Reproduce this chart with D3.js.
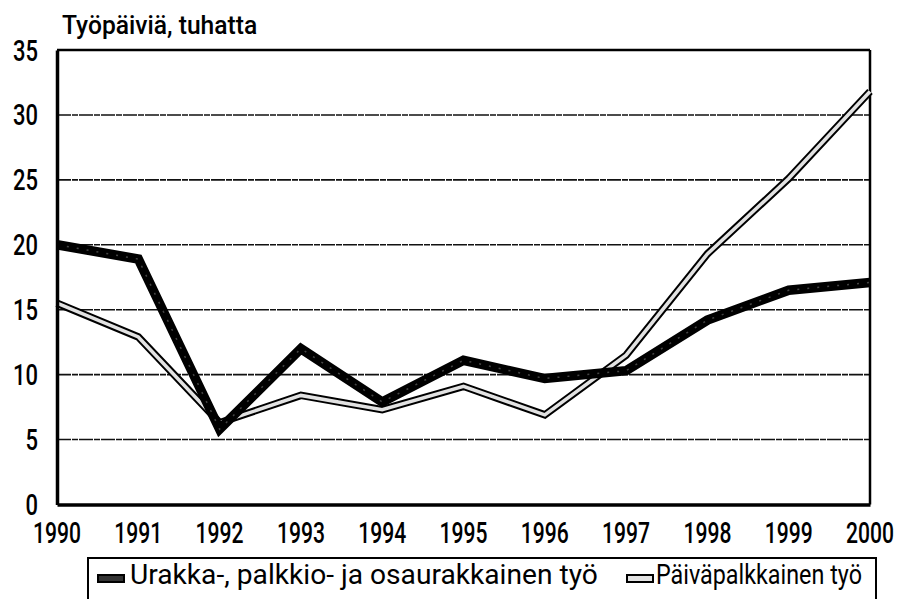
<!DOCTYPE html>
<html><head><meta charset="utf-8">
<script src="https://cdn.jsdelivr.net/npm/d3@7"></script>
<style>
body{margin:0;background:#fff;}
text{font-family:Roboto,"Liberation Sans",sans-serif;fill:#000;}
</style></head><body>
<svg id="c" width="898" height="599"></svg>
<script>
const years = [1990,1991,1992,1993,1994,1995,1996,1997,1998,1999,2000];
const urakka = [20.0,18.9,5.8,12.0,7.9,11.1,9.7,10.3,14.2,16.5,17.1];
const paiva = [15.5,12.9,6.3,8.4,7.3,9.1,6.9,11.5,19.3,25.1,31.8];
const yTicks = [0,5,10,15,20,25,30,35];
const seriesNames = ["Urakka-, palkkio- ja osaurakkainen työ","Päiväpalkkainen työ"];
const yTitle = "Työpäiviä, tuhatta";

const svg = d3.select("#c");
const L=57,R=870,T=50,B=504.5;
const x = d3.scaleLinear().domain([1990,2000]).range([L,R]);
const y = d3.scaleLinear().domain([0,35]).range([B,T]);

function fitText(g, str, px, py, size, width, anchor){
  const t = g.append("text").attr("x",0).attr("y",0).style("font-size",size+"px")
    .attr("text-anchor",anchor||"start").text(str);
  const w = t.node().getComputedTextLength();
  const s = width / w;
  t.attr("transform",`translate(${px},${py}) scale(${s},1)`);
  return t;
}

// grid
svg.append("g").selectAll("line").data(yTicks.filter(d=>d>0&&d<35)).join("line")
  .attr("x1",L).attr("x2",R).attr("y1",d=>y(d)).attr("y2",d=>y(d))
  .attr("stroke","#111").attr("stroke-width",1.6).attr("stroke-dasharray","14,1,6,1");

// frame
svg.append("line").attr("x1",L).attr("x2",R).attr("y1",T).attr("y2",T).attr("stroke","#000").attr("stroke-width",2.5);
svg.append("line").attr("x1",R).attr("x2",R).attr("y1",T).attr("y2",B).attr("stroke","#000").attr("stroke-width",2.5);

// lines
const line = d3.line().x((d,i)=>x(years[i])).y(d=>y(d)).curve(d3.curveLinear);
svg.append("path").attr("d",line(paiva)).attr("fill","none").attr("stroke","#000").attr("stroke-width",7.5).attr("stroke-linejoin","miter");
svg.append("path").attr("d",line(paiva)).attr("fill","none").attr("stroke","#e2e2e2").attr("stroke-width",3.5).attr("stroke-linejoin","miter");
svg.append("path").attr("d",line(urakka)).attr("fill","none").attr("stroke","#000").attr("stroke-width",9.5).attr("stroke-linejoin","miter");
svg.append("path").attr("d",line(urakka)).attr("fill","none").attr("stroke","#444").attr("stroke-width",1.5).attr("stroke-dasharray","2,8");

// axes
const gy = svg.append("g").attr("transform",`translate(${L},0)`).call(d3.axisLeft(y).tickValues(yTicks).tickSize(0).tickFormat(""));
gy.select(".domain").attr("stroke","#000").attr("stroke-width",3.5);
const gx = svg.append("g").attr("transform",`translate(0,${B})`).call(d3.axisBottom(x).tickValues(years).tickSize(0).tickFormat(""));
gx.select(".domain").attr("stroke","#000").attr("stroke-width",3.5);

const lab = svg.append("g").style("font-weight","500");
yTicks.forEach(d=>{
  const s = String(d);
  fitText(lab, s, 38, y(d)+10.5, 30, s.length*12.5, "end");
});
years.forEach(d=>{
  fitText(lab, String(d), x(d), 543, 30, 48, "middle");
});

// title
fitText(svg, yTitle, 62, 34, 25, 193, "start").style("font-weight","500");

// legend
svg.append("rect").attr("x",88).attr("y",558).attr("width",788).attr("height",60)
  .attr("fill","none").attr("stroke","#000").attr("stroke-width",2);
const leg = [{x:98,tx:130,len:468,name:seriesNames[0],dark:true},{x:627,tx:656,len:206,name:seriesNames[1],dark:false}];
leg.forEach(l=>{
  svg.append("rect").attr("x",l.x).attr("y",575).attr("width",26).attr("height",7)
    .attr("fill",l.dark?"#333":"#e2e2e2").attr("stroke","#000").attr("stroke-width",2);
  fitText(svg, l.name, l.tx, 584, 28, l.len, "start");
});
</script>
</body></html>
